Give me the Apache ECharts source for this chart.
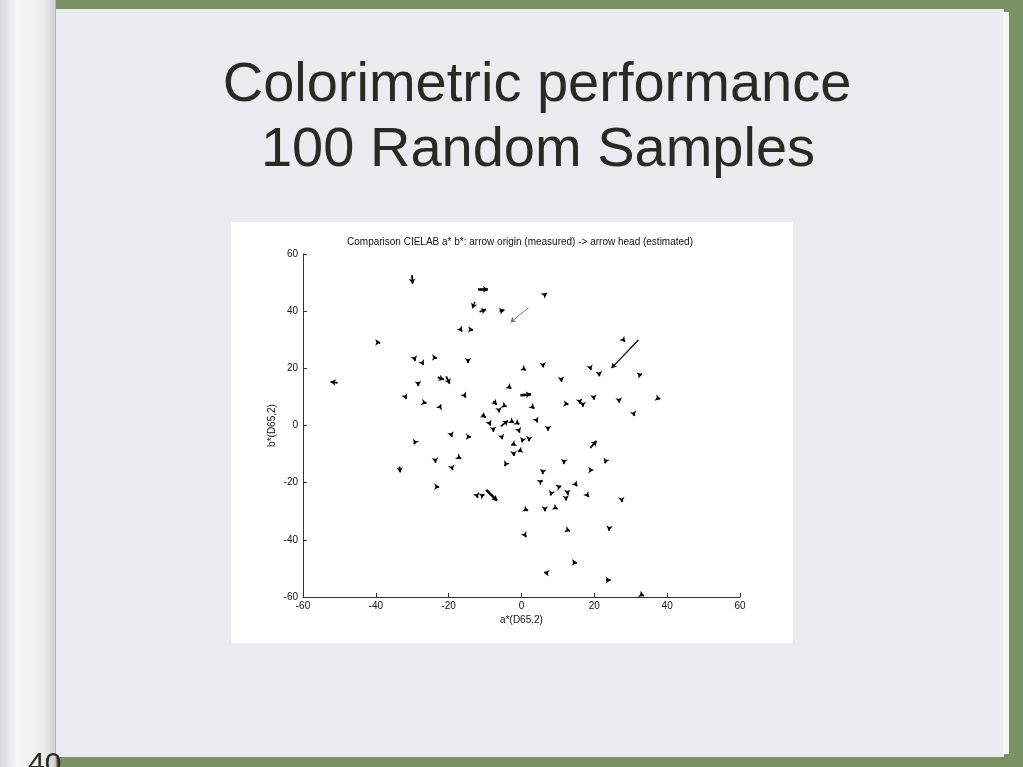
<!DOCTYPE html>
<html>
<head>
<meta charset="utf-8">
<script src="https://cdn.jsdelivr.net/npm/echarts@6/dist/echarts.min.js"></script>
<style>html,body{margin:0;padding:0;background:#ececf0;}#c{width:1023px;height:767px;}</style>
</head>
<body>
<div id="c"></div>
<script>
// arrow origins (measured) and heads (estimated), CIELAB a*, b*
var originA = [-30.1,-11.9,6.2,-12.8,-11.5,-6.0,1.9,-16.9,-14.0,-39.2,28.0,32.1,-29.4,-27.3,-23.8,-14.7,0.5,5.9,18.9,21.3,32.2,-50.5,-23.0,-20.7,-28.4,10.9,-3.2,-31.9,-26.8,-22.4,-15.7,-0.3,3.0,-7.7,-4.8,-6.2,12.0,15.9,16.8,19.8,26.8,37.3,30.8,-10.9,-8.9,-7.8,-5.7,-2.9,-0.8,4.0,7.3,-19.3,-14.8,-5.4,-2.0,0.3,2.1,0.0,-2.2,-4.2,-29.2,18.9,-23.7,-17.4,-33.5,-19.2,11.7,23.1,19.5,5.9,5.0,-23.4,14.7,10.0,8.2,12.6,12.2,18.0,27.5,-12.2,-11.0,-9.7,0.8,6.4,9.0,0.8,12.5,24.1,14.2,7.2,23.2,32.7,-1.2];
var originB = [52.6,47.6,45.6,43.3,39.8,40.0,41.2,33.9,33.6,29.1,29.9,29.9,23.6,22.1,23.8,22.8,19.9,21.3,20.2,18.3,17.6,14.9,16.8,17.2,14.9,16.4,13.3,10.1,8.0,6.5,10.6,10.6,6.5,8.5,7.0,5.4,7.6,8.8,7.8,10.2,8.9,9.6,4.2,3.8,1.1,-0.8,-0.3,1.6,-1.4,2.2,-0.6,-3.2,-3.9,-4.0,-6.4,-5.0,-4.4,-8.6,-9.6,-13.2,-5.7,-7.8,-11.9,-11.0,-14.4,-14.4,-12.3,-12.5,-15.6,-15.9,-19.8,-21.4,-20.3,-21.6,-23.6,-23.1,-25.2,-24.2,-25.8,-24.6,-24.6,-22.5,-29.2,-29.3,-28.6,-38.0,-36.5,-35.7,-47.9,-51.6,-54.1,-59.1,0.9];
var headA = [-29.9,-9.2,6.9,-13.5,-9.7,-4.7,-3.0,-16.3,-13.3,-38.8,28.4,24.7,-29.2,-26.9,-23.2,-14.7,1.2,6.0,19.1,21.4,33.1,-52.4,-21.3,-19.7,-28.3,11.0,-2.8,-31.6,-26.1,-22.1,-15.3,2.6,3.5,-6.8,-4.1,-6.1,12.9,16.1,16.7,19.9,26.9,38.1,31.0,-9.8,-8.5,-7.7,-3.7,-2.1,-0.5,4.4,7.3,-19.1,-13.9,-5.2,-2.8,0.1,2.0,-1.0,-2.2,-4.6,-29.5,20.6,-23.6,-16.6,-33.3,-18.9,11.6,22.9,19.7,5.8,5.8,-22.6,15.3,10.9,8.0,12.6,12.3,18.5,27.6,-12.0,-10.2,-6.7,1.8,6.4,9.9,1.3,13.3,24.0,15.2,6.2,24.5,33.6,-0.6];
var headB = [49.6,47.6,46.3,41.0,40.6,40.4,36.1,32.9,33.6,29.1,29.3,20.1,22.6,21.2,23.8,21.9,19.3,20.3,19.4,17.2,18.0,15.3,16.1,14.6,13.8,15.3,12.9,9.3,7.8,7.3,9.8,10.9,5.9,7.3,6.6,4.6,7.4,7.6,6.6,9.0,8.0,9.3,3.3,2.8,0.0,-2.2,1.7,1.0,-2.5,1.1,-1.8,-4.0,-3.9,-4.8,-6.9,-5.9,-5.5,-9.1,-10.7,-14.2,-6.6,-5.4,-13.0,-11.6,-16.4,-15.6,-13.5,-13.2,-15.6,-17.0,-19.2,-21.4,-21.2,-21.2,-24.5,-24.2,-26.2,-25.0,-26.8,-25.3,-24.1,-26.3,-29.8,-30.0,-29.2,-39.0,-36.9,-36.8,-47.9,-51.4,-54.1,-59.6,0.4];
var axisTicks = [-60,-40,-20,0,20,40,60];
var chartTitle = 'Comparison CIELAB a* b*: arrow origin (measured) -> arrow head (estimated)';
var slideTitle = ['Colorimetric performance', '100 Random Samples'];
var xName = 'a*(D65,2)', yName = 'b*(D65,2)';
var pageNumber = '40';

var thinGray = {6: true};
var thinBlack = {11: true, 3: true};
var thick = {81: true, 1: true, 31: true};

var arrows = originA.map(function (a, i) {
  var lw = 1.8, col = '#000';
  if (thinGray[i]) { lw = 1; col = '#777'; }
  else if (thinBlack[i]) { lw = 1.2; }
  else if (thick[i]) { lw = 2.6; }
  return { coords: [[a, originB[i]], [headA[i], headB[i]]], lineStyle: { width: lw, color: col } };
});

var chart = echarts.init(document.getElementById('c'), null, { renderer: 'canvas' });
var W = 1023, H = 767;
var option = {
  backgroundColor: '#ececf0',
  animation: false,
  graphic: [
    { type: 'rect', z: -100, shape: { x: 0, y: 0, width: W, height: H }, style: { fill: '#7a9163' } },
    { type: 'rect', z: -99, shape: { x: 0, y: 9, width: 1004, height: 748 }, style: { fill: '#ececf0' } },
    { type: 'rect', z: -99, shape: { x: 1003, y: 12, width: 6, height: 742 }, style: { fill: '#f6f6f6' } },
    { type: 'rect', z: -98, shape: { x: 0, y: 0, width: 56, height: H },
      style: { fill: new echarts.graphic.LinearGradient(0, 0, 1, 0, [
        { offset: 0, color: '#d9d9dc' }, { offset: 0.3, color: '#f7f7f7' },
        { offset: 0.75, color: '#eeeeee' }, { offset: 1, color: '#d0d0d2' }]) } },
    { type: 'line', z: -97, shape: { x1: 55.5, y1: 0, x2: 55.5, y2: H }, style: { stroke: '#b8b8bb', lineWidth: 1 } },
    { type: 'rect', z: -97, shape: { x: 231, y: 222, width: 562, height: 421 }, style: { fill: '#ffffff' } },
    { type: 'text', z: -96, style: { text: slideTitle[0], x: 537, y: 86, textAlign: 'center', textVerticalAlign: 'middle',
      font: '56px "Liberation Sans", Arial, sans-serif', fill: '#2a2a24' } },
    { type: 'text', z: -96, style: { text: slideTitle[1], x: 538, y: 151, textAlign: 'center', textVerticalAlign: 'middle',
      font: '56px "Liberation Sans", Arial, sans-serif', fill: '#2a2a24' } },
    { type: 'text', z: -96, style: { text: chartTitle, x: 520, y: 242, textAlign: 'center', textVerticalAlign: 'middle',
      font: '10px "Liberation Sans", Arial, sans-serif', fill: '#111' } },
    { type: 'text', z: -96, style: { text: pageNumber, x: 28, y: 750, textAlign: 'left', textVerticalAlign: 'top',
      font: '30px "Liberation Sans", Arial, sans-serif', fill: '#2a2a24' } }
  ],
  grid: { left: 303, right: W - 740, top: 254, bottom: H - 597, containLabel: false },
  xAxis: {
    type: 'value', min: -60, max: 60, interval: 20,
    name: xName, nameLocation: 'middle', nameGap: 18,
    nameTextStyle: { fontSize: 10, color: '#111', fontFamily: 'Liberation Sans' },
    axisLine: { onZero: false, lineStyle: { color: '#333', width: 1 } },
    axisTick: { inside: true, length: 4, lineStyle: { color: '#333' } },
    axisLabel: { fontSize: 10, color: '#111', margin: 4, fontFamily: 'Liberation Sans',
      formatter: function (v) { return axisTicks.indexOf(v) >= 0 ? String(v) : ''; } },
    splitLine: { show: false }
  },
  yAxis: {
    type: 'value', min: -60, max: 60, interval: 20,
    name: yName, nameLocation: 'middle', nameGap: 26, nameRotate: 90,
    nameTextStyle: { fontSize: 10, color: '#111', fontFamily: 'Liberation Sans' },
    axisLine: { onZero: false, lineStyle: { color: '#333', width: 1 } },
    axisTick: { inside: true, length: 4, lineStyle: { color: '#333' } },
    axisLabel: { fontSize: 10, color: '#111', margin: 5, fontFamily: 'Liberation Sans' },
    splitLine: { show: false }
  },
  series: [{
    type: 'lines', coordinateSystem: 'cartesian2d',
    symbol: ['none', 'arrow'], symbolSize: 5,
    lineStyle: { color: '#000', width: 1.8, opacity: 1, curveness: 0 },
    data: arrows
  }]
};
chart.setOption(option);
</script>
</body>
</html>
